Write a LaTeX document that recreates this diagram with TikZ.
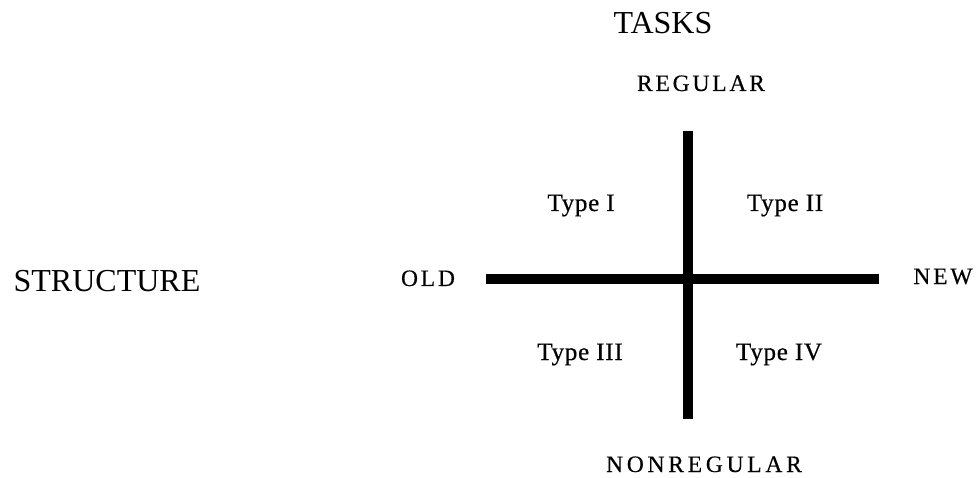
\documentclass[tikz,border=0pt]{standalone}
\usepackage{fontspec}
\setmainfont{Liberation Serif}
\begin{document}
\begin{tikzpicture}[x=1pt,y=-1pt,
  big/.style={font=\fontsize{32}{36}\selectfont, anchor=base, inner sep=0pt},
  axislbl/.style={font=\fontsize{23.5}{27}\selectfont\addfontfeatures{LetterSpace=12,FakeBold=0.4}, anchor=base, inner sep=0pt},
  typelbl/.style={font=\fontsize{25}{29}\selectfont\addfontfeatures{LetterSpace=3,FakeBold=0.5}, anchor=base, inner sep=0pt},
  axis/.style={line width=10pt, line cap=butt}]
\useasboundingbox (0,0) rectangle (977,478);
\node[big] (tasks) at (663,34) {TASKS};
\node[big] (structure) at (107,292) {STRUCTURE};
\node[axislbl] (regular) at (701,91) {REGULAR};
\node[axislbl, font=\fontsize{23.5}{27}\selectfont\addfontfeatures{LetterSpace=16,FakeBold=0.4}] (nonregular) at (704,472) {NONREGULAR};
\node[axislbl] (old) at (428,286) {OLD};
\node[axislbl] (new) at (943,284) {NEW};
\node[typelbl] (t1) at (581,211) {Type I};
\node[typelbl] (t2) at (785,211) {Type II};
\node[typelbl] (t3) at (580,360) {Type III};
\node[typelbl] (t4) at (779,360) {Type IV};
\coordinate (vtop) at (687.5,131);
\coordinate (vbot) at (687.5,419);
\coordinate (hleft) at (486,279);
\coordinate (hright) at (879,279);
\draw[axis] (vtop) -- (vbot);
\draw[axis] (hleft) -- (hright);
\end{tikzpicture}
\end{document}
